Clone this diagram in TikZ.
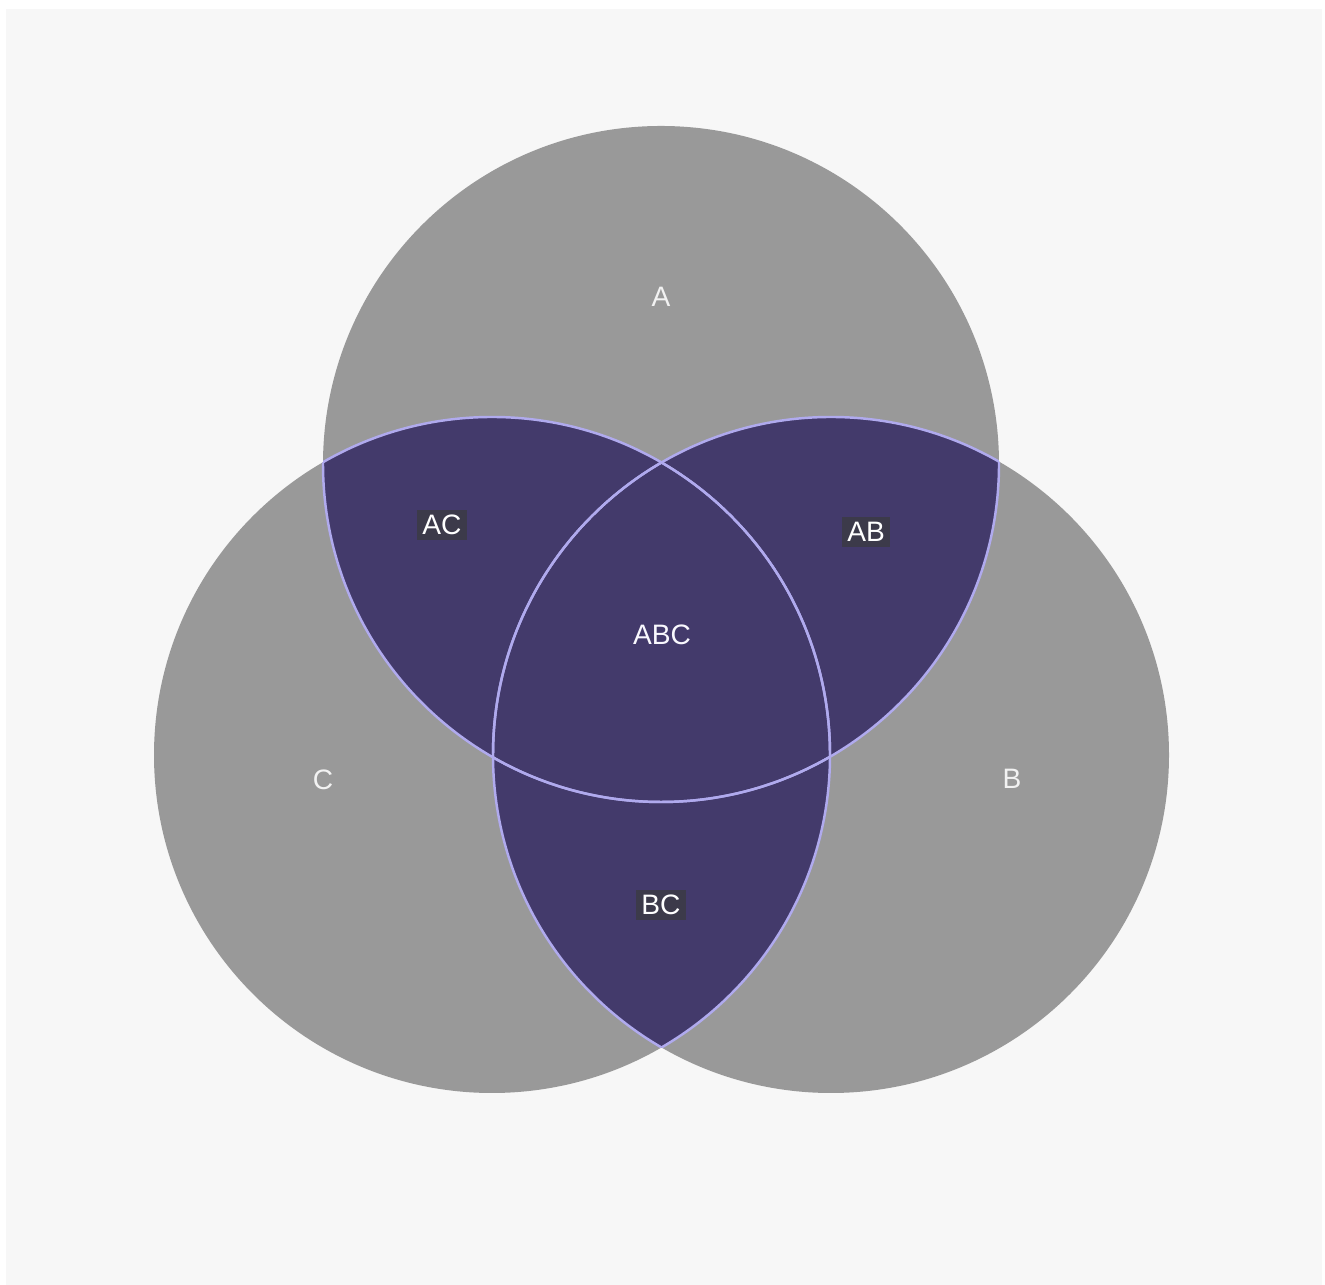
\documentclass[tikz,border=0pt]{standalone}
\usepackage{fontspec}
\setmainfont{Liberation Sans}
\usetikzlibrary{backgrounds}
\definecolor{bgpaper}{RGB}{247,247,247}
\definecolor{setgray}{RGB}{153,153,153}
\definecolor{overlapnavy}{RGB}{67,58,107}
\definecolor{rimlilac}{RGB}{176,170,238}
\definecolor{tagshade}{RGB}{60,58,74}
\begin{document}
\begin{tikzpicture}[
    setlabel/.style={text=white!90!gray,font=\fontsize{8}{10}\selectfont,inner sep=1pt},
    pairlabel/.style={text=white,font=\fontsize{8}{10}\selectfont,fill=tagshade,inner sep=1.5pt},
    triplabel/.style={text=white!92!rimlilac,font=\fontsize{8}{10}\selectfont,inner sep=1pt},
    rim/.style={draw=rimlilac,line width=0.7pt}
  ]
  % paper
  \fill[white] (0,0) rectangle (13.25,12.85);
  \fill[bgpaper] (0.06,0) rectangle (13.22,12.76);

  \coordinate (cA) at (6.61,8.21);
  \coordinate (cB) at (8.31,5.30);
  \coordinate (cC) at (4.92,5.30);
  \def\rad{3.38}

  % the three sets
  \foreach \s in {cA,cB,cC}
    \fill[setgray] (\s) circle (\rad);

  % overlaps
  \foreach \p/\q in {cA/cB,cA/cC,cB/cC}{
    \begin{scope}
      \clip (\p) circle (\rad);
      \fill[overlapnavy] (\q) circle (\rad);
    \end{scope}
  }

  % rims, only where they cross another set
  \foreach \p/\q in {cA/cB,cA/cC,cB/cA,cB/cC,cC/cA,cC/cB}{
    \begin{scope}
      \clip (\q) circle (\rad);
      \draw[rim] (\p) circle (\rad);
    \end{scope}
  }

  % labels
  \node[setlabel] (labA) at (6.61,9.88) {A};
  \node[setlabel] (labB) at (10.12,5.06) {B};
  \node[setlabel] (labC) at (3.23,5.05) {C};
  \node[pairlabel] (labAC) at (4.42,7.60) {AC};
  \node[pairlabel] (labAB) at (8.66,7.53) {AB};
  \node[pairlabel] (labBC) at (6.61,3.80) {BC};
  \node[triplabel] (labABC) at (6.62,6.50) {ABC};
\end{tikzpicture}
\end{document}
